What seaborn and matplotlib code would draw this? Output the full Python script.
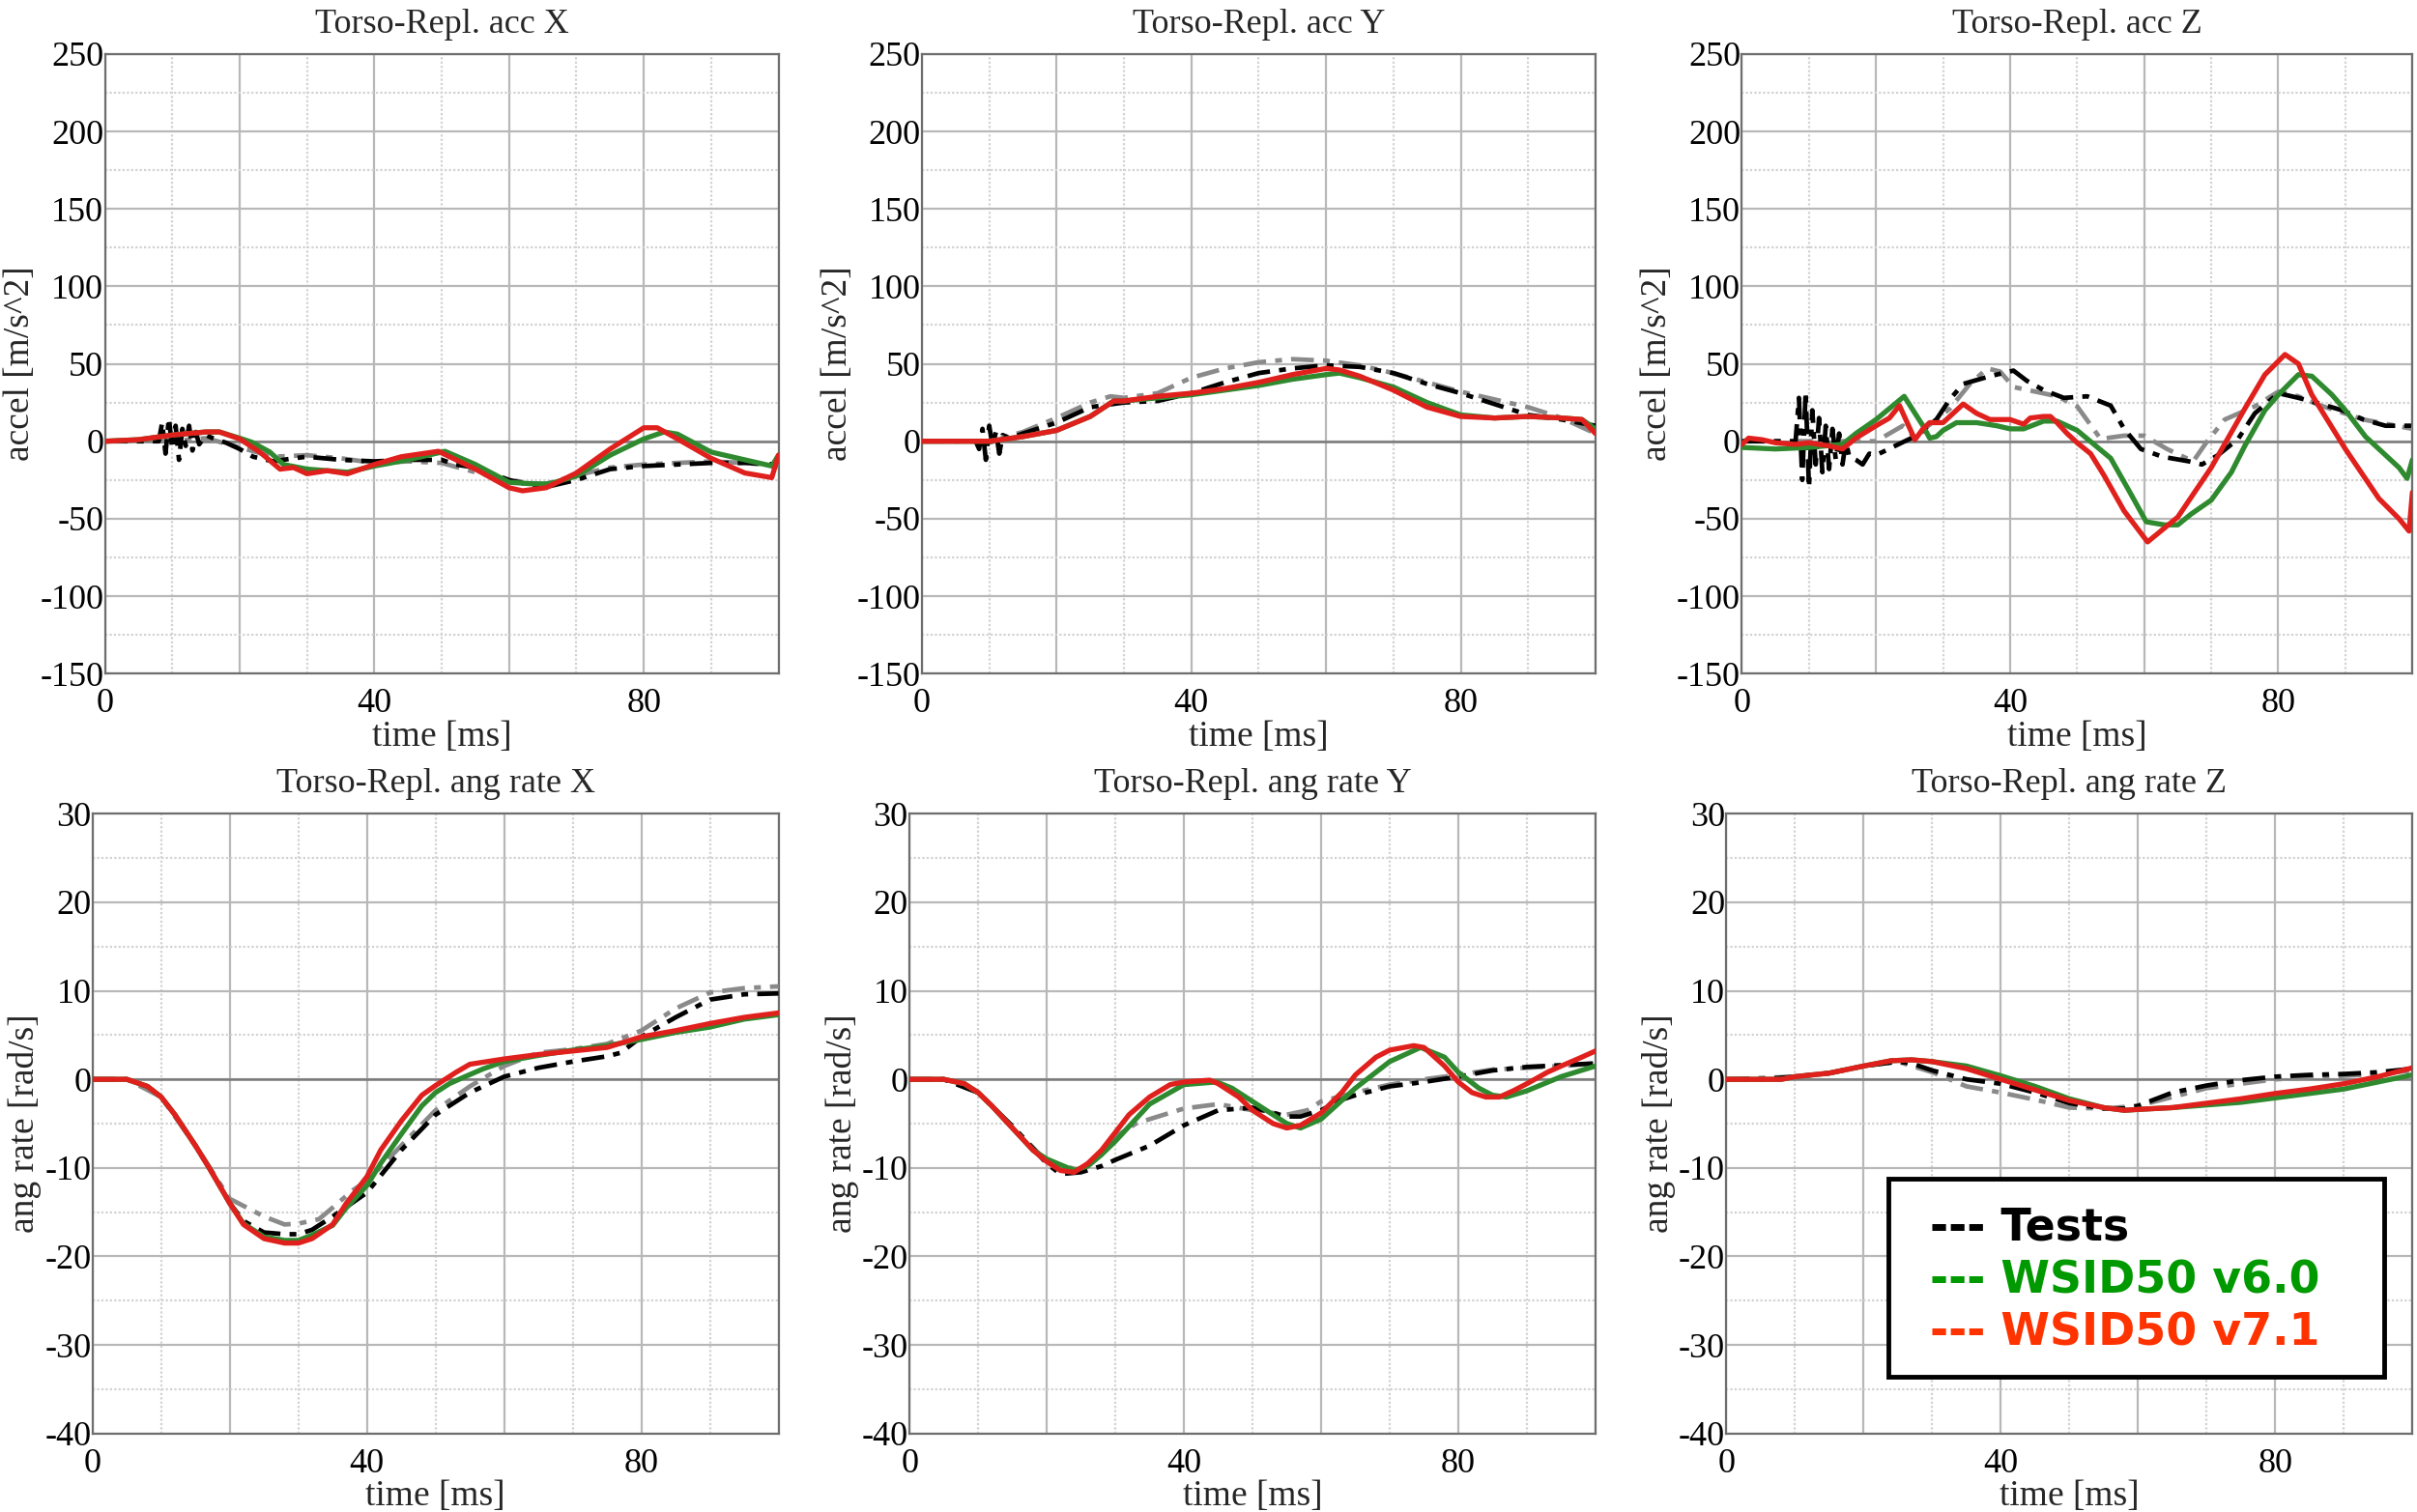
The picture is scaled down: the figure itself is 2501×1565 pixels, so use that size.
import matplotlib
matplotlib.use("Agg")
import matplotlib.pyplot as plt
import matplotlib.patches as mpatches
from matplotlib.ticker import MultipleLocator
import seaborn as sns

sns.set_theme(style="white")
plt.rcParams['font.family'] = ['Liberation Serif', 'DejaVu Serif']
plt.rcParams['axes.unicode_minus'] = False

# ---------------- data ----------------
# Torso acc X
accx_t_red = [0, 5, 10, 15, 17, 20, 23, 26, 28, 30, 33, 36, 40, 44, 49.5, 55, 60, 62, 65.5, 70, 75, 80, 82, 85, 90, 95, 99, 100]
accx_red = [0, 1, 4, 6, 6, 1.5, -7, -18, -17, -21, -19, -21, -15, -10, -6.5, -18, -30, -32, -30, -20.5, -5, 8.7, 8.7, 1.5, -11, -20.5, -23.5, -9]
accx_t_green = [0, 5, 10, 15, 17, 20, 21.8, 24.5, 26.5, 30, 36, 40, 45, 50.5, 55, 60, 63.5, 66, 70, 75, 80, 83, 85, 90, 95, 99, 100]
accx_green = [0, 1, 4, 6, 6, 2, -0.6, -7, -15, -18, -20, -16, -12, -6.5, -15, -26.5, -27.5, -27.5, -22.5, -9, 1.5, 6, 4.6, -7, -12, -16, -9]
accx_t_test1 = [0, 8, 8.5, 9, 9.5, 10, 10.5, 11, 11.5, 12, 12.5, 13, 13.5, 14, 15, 16, 18, 20, 22, 25, 28, 30, 35, 40, 45, 50, 52, 55, 60, 65, 70, 75, 80, 85, 90, 95, 100]
accx_test1 = [0, 0, 12, -8, 15, -5, 10, -12, 8, -3, 10, -6, 6, -2, 4, 2, -1, -5, -10, -13, -11, -10, -12, -13, -12, -12, -15, -17, -25, -30, -25, -18, -16, -15, -14, -14, -15]
accx_t_test2 = [0, 10, 15, 20, 25, 30, 35, 40, 45, 50, 55, 60, 65, 70, 75, 80, 85, 90, 95, 100]
accx_test2 = [0, 0, 2, -4, -10, -9, -11, -14, -13, -14, -20, -25, -28, -22, -17, -15, -14, -13, -14, -16]

# Torso acc Y
accy_t_red = [0, 8, 10, 15, 20, 25, 28.5, 30, 35, 40, 45, 50, 55, 60, 62, 65, 70, 75, 80, 85, 90, 95, 98, 100]
accy_red = [0, 0, 0, 3, 7, 16, 26, 26, 29, 31, 34, 38, 43, 47, 46, 42, 33, 22, 16, 15, 16, 15, 14, 5]
accy_t_green = [0, 8, 10, 15, 20, 25, 28.5, 30, 35, 40, 45, 50, 55, 60, 62, 65, 70, 75, 80, 85, 90, 95, 98, 100]
accy_green = [0, 0, 0, 3, 7, 16, 26, 26, 28, 30, 33, 36, 40, 43, 44, 41, 35, 25, 17, 15, 16, 15, 14, 8]
accy_t_test1 = [0, 8, 8.5, 9, 9.5, 10, 10.5, 11, 11.5, 12, 13, 15, 20, 25, 30, 35, 40, 45, 50, 55, 60, 65, 70, 75, 80, 85, 90, 95, 100]
accy_test1 = [0, 0, -5, 8, -12, 10, -3, 6, -8, 4, 2, 5, 12, 22, 25, 26, 31, 38, 44, 47, 49, 48, 44, 37, 31, 24, 17, 14, 10]
accy_t_test2 = [0, 10, 15, 20, 25, 28, 30, 35, 40, 45, 50, 55, 60, 65, 70, 75, 80, 85, 90, 95, 100]
accy_test2 = [0, 0, 6, 15, 25, 29, 28, 31, 41, 47, 51, 53, 52, 49, 44, 38, 32, 27, 22, 15, 5]

# Torso acc Z
accz_t_red = [0, 1, 3, 5, 8, 10, 13, 15, 17, 20, 22, 23.5, 25.8, 27, 28, 30, 32, 33, 35, 37, 40, 42, 43, 45, 46, 47, 48.5, 50, 52, 54, 57, 60.5, 65, 70, 75, 78, 81, 83, 85, 90, 95, 98, 99.5, 100]
accz_red = [-2, 2, 1, -1, -2, -1, -3, -5, 2, 10, 15, 23, 1, 8, 12, 12, 20, 24, 18, 14, 14, 11, 15, 16, 16, 12, 5, -1, -8, -22, -45, -65, -49, -17, 21, 43, 56, 50, 30, -5, -37, -50, -58, -33]
accz_t_green = [0, 5, 10, 15, 17, 20, 24.2, 27, 28, 29, 30, 32, 35, 38, 40, 42, 45, 47, 50, 55, 58, 60.3, 63, 65, 67, 70, 73, 75, 78, 80, 83, 85, 88, 90, 93, 95, 98, 99.2, 100]
accz_green = [-4, -5, -4, -2, 5, 14, 29, 10, 2, 3, 7, 12, 12, 10, 8, 8, 13, 13, 7, -11, -34, -52, -54, -54, -47, -38, -20, -3, 20, 30, 43, 42, 30, 20, 3, -5, -17, -24, -12]
accz_t_test1 = [0, 8, 8.5, 9, 9.5, 10, 10.5, 11, 11.5, 12, 12.5, 13, 13.5, 14, 14.5, 15, 15.5, 16, 17, 18, 19, 20, 24, 26, 29, 31, 33, 37, 40.5, 42.5, 45, 48, 51.5, 55, 57, 59.5, 62.7, 66.7, 68.6, 71, 74, 76.5, 80, 83, 86, 89.5, 92.7, 96, 100]
accz_test1 = [0, 0, 28, -25, 32, -30, 20, -15, 15, -20, 10, -18, 8, -12, 5, -15, 0, -10, -12, -15, -8, -9, -0.6, 3.5, 14, 27, 37, 42, 45.6, 39, 33, 28, 29, 23, 8, -5, -10, -13, -15, -9, 1.5, 18, 31, 28, 24.5, 20, 14, 10, 10]
accz_t_test2 = [0, 10, 20, 22, 24, 26, 27.5, 31, 34, 36.6, 38.5, 40.5, 43.8, 47, 50, 53.5, 57, 60, 63.4, 67.3, 69.3, 72, 76.5, 80, 83, 86, 92.7, 100]
accz_test2 = [0, 0, 0, 5, 10, 1.5, 9, 21, 37, 47, 45, 35, 32, 29, 22.5, 1.5, 3.6, 3.6, -5, -13, -0.6, 14, 22.5, 32, 29, 23.5, 14, 8]

# Torso ang rate X
angx_t_red = [0, 5, 8, 10, 12, 15, 17, 20, 22, 25, 28, 30, 32, 35, 37, 40, 42, 45, 48, 50, 52, 53, 55, 60, 65, 70, 75, 80, 85, 90, 95, 100]
angx_red = [0, 0, -0.8, -2, -4, -7.5, -10, -14, -16.4, -18, -18.5, -18.5, -18, -16.4, -14, -11, -8, -4.7, -1.8, -0.7, 0.3, 0.8, 1.7, 2.3, 2.8, 3.2, 3.6, 4.8, 5.5, 6.3, 7, 7.5]
angx_t_green = [0, 5, 8, 10, 12, 15, 17, 20, 22, 25, 28, 30, 32, 35, 37, 40, 42, 45, 48, 50, 52, 54, 57, 60, 65, 70, 75, 80, 85, 90, 95, 100]
angx_green = [0, 0, -0.8, -2, -4, -7.5, -10, -14, -16.3, -17.8, -18.2, -18.2, -17.6, -16.5, -14.5, -12, -9.5, -6.2, -3, -1.5, -0.5, 0.2, 1.2, 2, 2.7, 3.3, 3.8, 4.5, 5.3, 5.9, 6.8, 7.3]
angx_t_test1 = [0, 5, 8, 10, 12, 15, 17, 20, 22, 25, 28, 30, 32, 35, 40, 45, 50, 55, 60, 65, 70, 75, 77, 80, 85, 90, 95, 100]
angx_test1 = [0, 0, -0.8, -2, -4, -7.5, -10, -14, -16, -17.3, -17.5, -17.5, -17, -15.5, -12.8, -8, -4, -1.5, 0.3, 1.3, 2, 2.6, 3, 4.8, 7, 9, 9.6, 9.7]
angx_t_test2 = [0, 5, 10, 15, 20, 25, 28, 30, 33, 35, 38, 40, 45, 50, 55, 60, 65, 70, 75, 80, 85, 90, 95, 100]
angx_test2 = [0, 0, -2, -7.5, -13.5, -15.5, -16.4, -16.3, -15.8, -14.5, -12.5, -11.5, -7.5, -3.5, -0.8, 1.5, 3, 3.4, 4, 5.5, 8, 9.8, 10.3, 10.5]

# Torso ang rate Y
angy_t_red = [0, 5, 8, 10, 12, 15, 18, 20, 22, 24, 26, 28, 30, 32, 35, 38, 40, 43.8, 45, 48, 50, 53, 55, 57, 60, 63, 65, 68, 70, 73.5, 75, 78, 80, 82, 84, 86, 88, 90, 93, 95, 98, 100]
angy_red = [0, 0, -0.5, -1.5, -3, -5.5, -8, -9.3, -10.3, -10.5, -9.5, -8, -6, -4, -2, -0.6, -0.3, -0.1, -0.5, -2, -3.5, -5, -5.5, -5.2, -3.8, -1.5, 0.5, 2.5, 3.3, 3.8, 3.6, 1.5, -0.3, -1.5, -2, -2, -1.3, -0.5, 0.8, 1.5, 2.5, 3.2]
angy_t_green = [0, 5, 8, 10, 12, 15, 18, 20, 24, 26, 28, 30, 35, 40, 44.8, 47, 50, 55, 57, 60, 65, 70, 74.5, 78, 80, 83, 85, 87, 90, 95, 100]
angy_green = [0, 0, -0.5, -1.5, -3, -5.5, -8, -9, -10.3, -9.8, -8.5, -7, -2.8, -0.6, -0.3, -1, -2.5, -5, -5.5, -4.5, -1, 2, 3.6, 2.5, 0.8, -1, -1.8, -2, -1.3, 0.3, 1.5]
angy_t_test1 = [0, 5, 10, 15, 20, 22, 25, 28, 30, 35, 40, 45, 50, 55, 57, 60, 63, 65, 70, 75, 80, 85, 90, 95, 100]
angy_test1 = [0, 0, -1.5, -5.3, -9.5, -10.7, -10.5, -9.8, -9.1, -7.5, -5.2, -3.5, -3.2, -4.2, -4.2, -3.5, -2.3, -1.8, -0.8, -0.3, 0.3, 1, 1.4, 1.6, 1.8]
angy_t_test2 = [0, 5, 10, 15, 20, 25, 28, 30, 33, 35, 40, 45, 50, 55, 58, 60, 65, 70, 75, 80, 85, 90, 95, 100]
angy_test2 = [0, 0, -1.5, -5.3, -9.3, -10.3, -8.5, -6.5, -5, -4.5, -3.3, -2.8, -3.5, -4, -3.5, -2.5, -1.5, -0.6, 0, 0.5, 1.1, 1.3, 1.5, 1.8]

# Torso ang rate Z
angz_t_sim = [0, 8, 10, 15, 20, 24, 27, 30, 35, 40, 45, 50, 55, 58, 60, 65, 70, 75, 80, 85, 90, 95, 100]
angz_red = [0, 0, 0.3, 0.7, 1.5, 2.1, 2.2, 2, 1.2, 0, -1.2, -2.4, -3.2, -3.5, -3.4, -3.2, -2.7, -2.2, -1.6, -1.1, -0.5, 0.3, 1.3]
angz_green = [0, 0, 0.3, 0.7, 1.5, 2.1, 2.2, 2, 1.5, 0.4, -0.8, -2.2, -3.2, -3.5, -3.4, -3.2, -2.9, -2.6, -2.1, -1.6, -1.1, -0.3, 0.5]
angz_t_test1 = [0, 5, 10, 15, 20, 25, 27, 30, 35, 40, 45, 50, 55, 58, 60, 65, 70, 75, 80, 85, 90, 95, 100]
angz_test1 = [0, 0, 0.3, 0.7, 1.5, 2, 1.8, 1, 0, -0.5, -1.5, -2.7, -3.3, -3.3, -3, -1.5, -0.7, -0.1, 0.3, 0.5, 0.6, 0.8, 1.2]
angz_t_test2 = [0, 10, 15, 20, 25, 30, 35, 40, 45, 50, 55, 60, 65, 70, 75, 80, 85, 90, 95, 100]
angz_test2 = [0, 0.3, 0.7, 1.5, 2, 0.8, -0.8, -1.5, -2.3, -3.2, -3.3, -3, -2, -1, -0.5, 0, 0.2, 0.4, 0.6, 1]

titles = ['Torso-Repl. acc X', 'Torso-Repl. acc Y', 'Torso-Repl. acc Z',
          'Torso-Repl. ang rate X', 'Torso-Repl. ang rate Y', 'Torso-Repl. ang rate Z']
legend_labels = ['--- Tests', '--- WSID50 v6.0', '--- WSID50 v7.1']

RED = '#e0201c'
GREEN = '#2f8a2f'
GRAY = '#8a8a8a'

panels = [
    (accx_t_test2, accx_test2, accx_t_test1, accx_test1, accx_t_green, accx_green, accx_t_red, accx_red),
    (accy_t_test2, accy_test2, accy_t_test1, accy_test1, accy_t_green, accy_green, accy_t_red, accy_red),
    (accz_t_test2, accz_test2, accz_t_test1, accz_test1, accz_t_green, accz_green, accz_t_red, accz_red),
    (angx_t_test2, angx_test2, angx_t_test1, angx_test1, angx_t_green, angx_green, angx_t_red, angx_red),
    (angy_t_test2, angy_test2, angy_t_test1, angy_test1, angy_t_green, angy_green, angy_t_red, angy_red),
    (angz_t_test2, angz_test2, angz_t_test1, angz_test1, angz_t_sim, angz_green, angz_t_sim, angz_red),
]

# axes boxes [left, bottom, width, height] in figure fraction
boxes = [
    [0.0434, 0.5545, 0.2787, 0.4098],
    [0.3814, 0.5545, 0.2787, 0.4098],
    [0.7207, 0.5545, 0.2774, 0.4098],
    [0.0383, 0.0520, 0.2838, 0.4098],
    [0.3763, 0.0520, 0.2838, 0.4098],
    [0.7143, 0.0520, 0.2838, 0.4098],
]

fig = plt.figure(figsize=(25.01, 15.65), dpi=100)
fig.patch.set_facecolor('white')

for i, (box, data) in enumerate(zip(boxes, panels)):
    ax = fig.add_axes(box)
    t2, v2, t1, v1, tg, vg, tr, vr = data
    sns.lineplot(x=t2, y=v2, ax=ax, color=GRAY, linewidth=3.4, linestyle=(0, (5, 2, 1.5, 2)),
                 estimator=None, sort=False, zorder=3)
    sns.lineplot(x=t1, y=v1, ax=ax, color='black', linewidth=3.4, linestyle=(0, (5, 2, 1.5, 2)),
                 estimator=None, sort=False, zorder=4)
    sns.lineplot(x=tg, y=vg, ax=ax, color=GREEN, linewidth=3.8, estimator=None, sort=False, zorder=5)
    sns.lineplot(x=tr, y=vr, ax=ax, color=RED, linewidth=3.8, estimator=None, sort=False, zorder=6)

    ax.set_xlim(0, 100)
    ax.set_xticks([0, 20, 40, 60, 80, 100])
    ax.set_xticklabels(['0', '', '40', '', '80', ''])
    ax.xaxis.set_minor_locator(MultipleLocator(10))
    if i < 3:
        ax.set_ylim(-150, 250)
        ax.yaxis.set_major_locator(MultipleLocator(50))
        ax.yaxis.set_minor_locator(MultipleLocator(25))
        ax.set_ylabel('accel [m/s^2]', fontsize=27, labelpad=2)
    else:
        ax.set_ylim(-40, 30)
        ax.yaxis.set_major_locator(MultipleLocator(10))
        ax.yaxis.set_minor_locator(MultipleLocator(5))
        ax.set_ylabel('ang rate [rad/s]', fontsize=27, labelpad=2)

    ax.grid(which='major', color='#b8b8b8', linewidth=1.6, linestyle='-', zorder=0)
    ax.grid(which='minor', color='#d2d2d2', linewidth=1.6, linestyle=(0, (1, 1)), zorder=0)
    ax.axhline(0, color='#7a7a7a', linewidth=1.8, zorder=1)
    ax.set_axisbelow(True)

    ax.tick_params(axis='both', which='major', labelsize=26, colors='black')
    ax.tick_params(axis='y', which='both', length=0, pad=1)
    ax.tick_params(axis='x', which='major', length=5, width=1.2, color='#888888', pad=6)
    ax.tick_params(axis='x', which='minor', length=0)
    ax.set_xlabel('time [ms]', fontsize=27, labelpad=0)
    ax.set_title(titles[i], fontsize=26, pad=16)
    for s in ax.spines.values():
        s.set_color('#6e6e6e')
        s.set_linewidth(1.6)

# legend box drawn as plain text, as in the original figure
box = mpatches.Rectangle((0.7812, 0.0897), 0.2054, 0.1305, transform=fig.transFigure,
                         facecolor='white', edgecolor='black', linewidth=3.5, zorder=10)
fig.patches.append(box)
for k, (lab, col) in enumerate(zip(legend_labels, ['black', '#009900', '#ff3300'])):
    fig.text(0.7985, 0.1877 - k * 0.0347, lab, color=col, fontsize=33, fontweight='bold',
             family='DejaVu Sans', va='center', ha='left', zorder=11)

fig.savefig('out.png', dpi=100, facecolor='white')
